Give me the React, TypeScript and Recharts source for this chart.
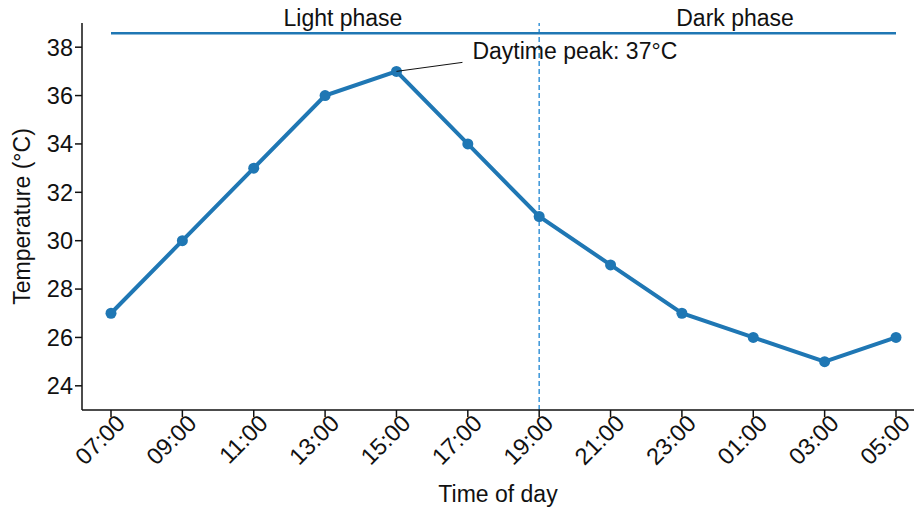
import React from "react";
import {
  LineChart,
  Line,
  XAxis,
  YAxis,
  ReferenceLine,
} from "recharts";

const hours = ["07:00", "09:00", "11:00", "13:00", "15:00", "17:00", "19:00", "21:00", "23:00", "01:00", "03:00", "05:00"];
const temps = [27, 30, 33, 36, 37, 34, 31, 29, 27, 26, 25, 26];
const yTicks = [24, 26, 28, 30, 32, 34, 36, 38];
const phaseNames = ["Light phase", "Dark phase"];

const data = hours.map((h, i) => ({ time: h, temp: temps[i] }));
const peak = Math.max(...temps);

const BLUE = "#1f77b4";
const FONT = "'Liberation Sans', Arial, sans-serif";

const XTick = (props: any) => {
  const { x, y, payload } = props;
  return (
    <g transform={`translate(${x},${y})`}>
      <text
        x={0}
        y={0}
        dy={15}
        dx={7}
        textAnchor="end"
        fill="#111"
        fontSize={23.5}
        fontFamily={FONT}
        transform="rotate(-45)"
      >
        {payload.value}
      </text>
    </g>
  );
};

const PeakLabel = (props: any) => {
  const { x, y, value } = props;
  if (value !== peak) return null;
  return (
    <g>
      <line x1={x} y1={y} x2={x + 66} y2={y - 9} stroke="#111" strokeWidth={1} />
      <text x={x + 76} y={y - 12} fill="#111" fontSize={23} fontFamily={FONT}>
        {`Daytime peak: ${value}°C`}
      </text>
    </g>
  );
};

const PhaseLabels = (props: any) => {
  const { viewBox } = props;
  if (!viewBox) return null;
  const { x, y, width } = viewBox;
  return (
    <g>
      <text x={x + width * 0.2955} y={y - 7} textAnchor="middle" fill="#111" fontSize={23} fontFamily={FONT}>
        {phaseNames[0]}
      </text>
      <text x={x + width * 0.795} y={y - 7} textAnchor="middle" fill="#111" fontSize={23} fontFamily={FONT}>
        {phaseNames[1]}
      </text>
    </g>
  );
};

const YLabel = (props: any) => {
  const { viewBox } = props;
  const cy = viewBox ? viewBox.y + viewBox.height / 2 : 216;
  return (
    <text
      x={30}
      y={cy}
      textAnchor="middle"
      fill="#111"
      fontSize={23}
      fontFamily={FONT}
      transform={`rotate(-90, 30, ${cy})`}
    >
      Temperature (°C)
    </text>
  );
};

export default function App() {
  return (
    <div style={{ position: "absolute", left: 0, top: 0, width: 914, height: 508, overflow: "hidden", background: "#fff" }}>
      <LineChart width={914} height={508} data={data} margin={{ top: 23, right: 0, bottom: 0, left: 0 }}>
        <XAxis
          dataKey="time"
          height={98}
          padding={{ left: 29, right: 18 }}
          stroke="#111"
          strokeWidth={1.5}
          tickSize={7}
          tick={<XTick />}
          interval={0}
          label={{ value: "Time of day", position: "insideBottom", offset: 6, fill: "#111", fontSize: 23, fontFamily: FONT }}
        />
        <YAxis
          width={82}
          domain={[23, 39]}
          ticks={yTicks}
          stroke="#111"
          strokeWidth={1.5}
          tickSize={7}
          tick={{ fill: "#111", fontSize: 23.5, fontFamily: FONT }}
          label={<YLabel />}
        />
        <ReferenceLine x="19:00" stroke="#3a95d8" strokeWidth={1.5} strokeDasharray="5 3" />
        <ReferenceLine
          segment={[{ x: "07:00", y: 38.58 }, { x: "05:00", y: 38.58 }]}
          stroke={BLUE}
          strokeWidth={2.5}
          ifOverflow="visible"
          label={<PhaseLabels />}
        />
        <Line
          type="linear"
          dataKey="temp"
          stroke={BLUE}
          strokeWidth={4}
          dot={{ r: 5.5, fill: BLUE, stroke: BLUE, strokeWidth: 0 }}
          activeDot={false}
          isAnimationActive={false}
          label={<PeakLabel />}
        />
      </LineChart>
    </div>
  );
}
